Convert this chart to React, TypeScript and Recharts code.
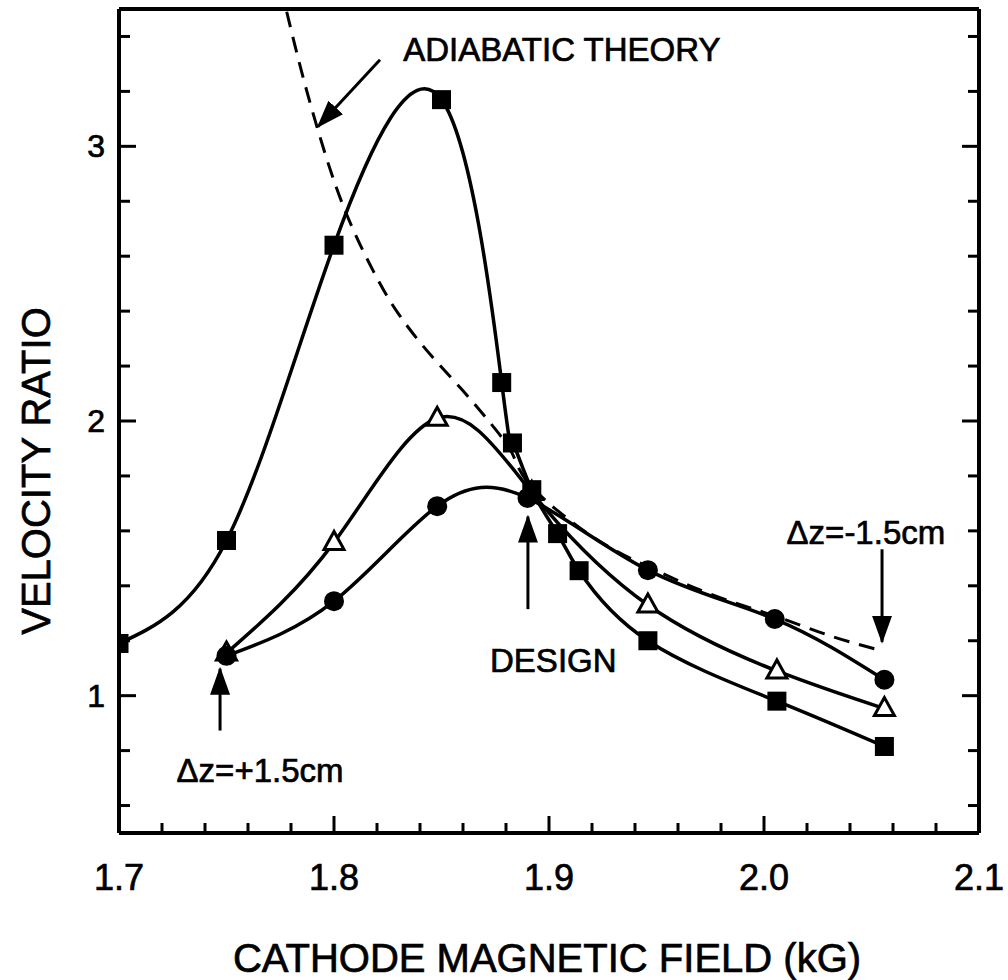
import React from 'react';
import { LineChart, Line, XAxis, YAxis, ReferenceLine, ReferenceDot } from 'recharts';

// axis ticks (kG on x, velocity ratio on y)
const xTicks = [1.7, 1.72, 1.74, 1.76, 1.78, 1.8, 1.82, 1.84, 1.86, 1.88, 1.9, 1.92, 1.94, 1.96, 1.98, 2.0, 2.02, 2.04, 2.06, 2.08, 2.1];
const xMajor = [1.7, 1.8, 1.9, 2.0, 2.1];
const yTicks = [0.6, 0.8, 1, 1.2, 1.4, 1.6, 1.8, 2, 2.2, 2.4, 2.6, 2.8, 3, 3.2, 3.4];
const yMajor = [1, 2, 3];

// filled squares
const fieldSquares = [1.7, 1.75, 1.8, 1.85, 1.878, 1.883, 1.892, 1.904, 1.914, 1.946, 2.006, 2.056];
const ratioSquares = [1.19, 1.565, 2.64, 3.17, 2.14, 1.92, 1.75, 1.59, 1.455, 1.2, 0.98, 0.815];

// open triangles
const fieldTriangles = [1.75, 1.8, 1.848, 1.892, 1.946, 2.006, 2.056];
const ratioTriangles = [1.155, 1.558, 2.01, 1.74, 1.33, 1.09, 0.953];

// filled circles
const fieldCircles = [1.75, 1.8, 1.848, 1.89, 1.946, 2.005, 2.056];
const ratioCircles = [1.145, 1.344, 1.69, 1.72, 1.457, 1.279, 1.058];

// adiabatic theory (dashed)
const fieldTheory = [1.778, 1.786, 1.796, 1.806, 1.818, 1.83, 1.845, 1.86, 1.873, 1.883, 1.892, 1.92, 1.946, 1.975, 2.005, 2.03, 2.053];
const ratioTheory = [3.49, 3.24, 2.97, 2.75, 2.55, 2.39, 2.24, 2.11, 1.99, 1.88, 1.76, 1.58, 1.47, 1.37, 1.29, 1.22, 1.167];

const zip = (xs: number[], ys: number[]) => xs.map((b, i) => ({ b, v: ys[i] }));
const squares = zip(fieldSquares, ratioSquares);
const triangles = zip(fieldTriangles, ratioTriangles);
const circles = zip(fieldCircles, ratioCircles);
const theory = zip(fieldTheory, ratioTheory);

const FONT = '"Liberation Sans", Arial, Helvetica, sans-serif';
const INK = '#000';
// slightly heavier glyphs than plain regular weight
const textStyle = { fontFamily: FONT, fill: INK, stroke: INK, strokeWidth: 0.7 };

const isOneOf = (v: number, list: number[]) => list.some((m) => Math.abs(m - v) < 1e-6);

const BottomTick = ({ x, y, payload }: any) => {
  const major = isOneOf(payload.value, xMajor);
  return (
    <g>
      <line x1={x} y1={y} x2={x} y2={y - (major ? 17 : 10)} stroke={INK} strokeWidth={3} />
      {major && (
        <text x={x} y={y + 57} textAnchor="middle" fontSize={36} {...textStyle}>
          {payload.value.toFixed(1)}
        </text>
      )}
    </g>
  );
};

const TopTick = ({ x, y, payload }: any) => {
  const major = isOneOf(payload.value, xMajor);
  return <line x1={x} y1={y} x2={x} y2={y + (major ? 17 : 10)} stroke={INK} strokeWidth={3} />;
};

const LeftTick = ({ x, y, payload }: any) => {
  const major = isOneOf(payload.value, yMajor);
  return (
    <g>
      <line x1={x} y1={y} x2={x + (major ? 17 : 11)} y2={y} stroke={INK} strokeWidth={3} />
      {major && (
        <text x={x - 14} y={y + 11} textAnchor="end" fontSize={32} {...textStyle}>
          {payload.value}
        </text>
      )}
    </g>
  );
};

const RightTick = ({ x, y, payload }: any) => {
  const major = isOneOf(payload.value, yMajor);
  return <line x1={x} y1={y} x2={x - (major ? 17 : 11)} y2={y} stroke={INK} strokeWidth={3} />;
};

const SquareDot = (p: any) => (
  <rect key={`s${p.index}`} x={p.cx - 9.5} y={p.cy - 9.5} width={19} height={19} fill={INK} />
);
const CircleDot = (p: any) => <circle key={`c${p.index}`} cx={p.cx} cy={p.cy} r={10} fill={INK} />;
const TriangleDot = (p: any) => (
  <polygon
    key={`t${p.index}`}
    points={`${p.cx},${p.cy - 11} ${p.cx - 10},${p.cy + 7} ${p.cx + 10},${p.cy + 7}`}
    fill="#fff"
    stroke={INK}
    strokeWidth={3}
  />
);

const note = (text: string) => (p: any) => (
  <text x={p.cx} y={p.cy} textAnchor="middle" dominantBaseline="central" fontSize={33} {...textStyle}>
    {text}
  </text>
);

const XTitle = ({ viewBox }: any) => (
  <text x={viewBox.x + viewBox.width / 2 - 2} y={viewBox.y + 139} textAnchor="middle" fontSize={40} {...textStyle}>
    CATHODE MAGNETIC FIELD (kG)
  </text>
);

const YTitle = ({ viewBox }: any) => {
  const cx = 36;
  const cy = viewBox.y + viewBox.height / 2 + 50;
  return (
    <text
      x={cx}
      y={cy}
      transform={`rotate(-90 ${cx} ${cy})`}
      textAnchor="middle"
      dominantBaseline="central"
      fontSize={40}
      {...textStyle}
    >
      VELOCITY RATIO
    </text>
  );
};

// annotation arrows, in data units
const arrows = [
  { from: [1.8214, 3.315], to: [1.7926, 3.072] },
  { from: [1.8902, 1.315], to: [1.8902, 1.652] },
  { from: [1.747, 0.873], to: [1.747, 1.098] },
  { from: [2.0549, 1.533], to: [2.0549, 1.196] },
];

const notes = [
  { text: 'ADIABATIC THEORY', b: 1.906, v: 3.351 },
  { text: 'DESIGN', b: 1.902, v: 1.127 },
  { text: 'Δz=+1.5cm', b: 1.7656, v: 0.728 },
  { text: 'Δz=-1.5cm', b: 2.0474, v: 1.594 },
];

export default function App() {
  return (
    <div style={{ position: 'absolute', left: 0, top: 0, background: '#fff' }}>
      <LineChart width={1008} height={980} margin={{ top: 9, right: 29, bottom: 0, left: 0 }}>
        <defs>
          <marker id="head" markerUnits="userSpaceOnUse" markerWidth={28} markerHeight={20} refX={26} refY={10} orient="auto">
            <path d="M0,0 L28,10 L0,20 Z" fill={INK} />
          </marker>
        </defs>
        <XAxis
          xAxisId="b"
          dataKey="b"
          type="number"
          domain={[1.7, 2.1]}
          ticks={xTicks}
          interval={0}
          height={147}
          tickSize={0}
          tickMargin={0}
          tickLine={false}
          tick={<BottomTick />}
          axisLine={{ stroke: INK, strokeWidth: 4 }}
          allowDataOverflow
          label={{ content: <XTitle /> } as any}
        />
        <XAxis
          xAxisId="t"
          orientation="top"
          mirror
          type="number"
          domain={[1.7, 2.1]}
          ticks={xTicks}
          interval={0}
          tickSize={0}
          tickMargin={0}
          tickLine={false}
          tick={<TopTick />}
          axisLine={{ stroke: INK, strokeWidth: 4 }}
          allowDataOverflow
        />
        <YAxis
          yAxisId="l"
          type="number"
          domain={[0.5, 3.5]}
          ticks={yTicks}
          interval={0}
          width={119}
          tickSize={0}
          tickMargin={0}
          tickLine={false}
          tick={<LeftTick />}
          axisLine={{ stroke: INK, strokeWidth: 4 }}
          allowDataOverflow
          label={{ content: <YTitle /> } as any}
        />
        <YAxis
          yAxisId="r"
          orientation="right"
          mirror
          type="number"
          domain={[0.5, 3.5]}
          ticks={yTicks}
          interval={0}
          tickSize={0}
          tickMargin={0}
          tickLine={false}
          tick={<RightTick />}
          axisLine={{ stroke: INK, strokeWidth: 4 }}
          allowDataOverflow
        />

        <Line
          xAxisId="b"
          yAxisId="l"
          data={theory}
          dataKey="v"
          type="natural"
          stroke={INK}
          strokeWidth={3}
          strokeDasharray="16 10"
          dot={false}
          isAnimationActive={false}
        />
        <Line
          xAxisId="b"
          yAxisId="l"
          data={triangles}
          dataKey="v"
          type="natural"
          stroke={INK}
          strokeWidth={3.5}
          dot={TriangleDot}
          isAnimationActive={false}
        />
        <Line
          xAxisId="b"
          yAxisId="l"
          data={circles}
          dataKey="v"
          type="natural"
          stroke={INK}
          strokeWidth={3.5}
          dot={CircleDot}
          isAnimationActive={false}
        />
        <Line
          xAxisId="b"
          yAxisId="l"
          data={squares}
          dataKey="v"
          type="natural"
          stroke={INK}
          strokeWidth={3.5}
          dot={SquareDot}
          isAnimationActive={false}
        />

        {arrows.map((a, i) => (
          <ReferenceLine
            key={`a${i}`}
            xAxisId="b"
            yAxisId="l"
            segment={[
              { x: a.from[0], y: a.from[1] },
              { x: a.to[0], y: a.to[1] },
            ]}
            stroke={INK}
            strokeWidth={3}
            markerEnd="url(#head)"
          />
        ))}
        {notes.map((n, i) => (
          <ReferenceDot key={`n${i}`} xAxisId="b" yAxisId="l" x={n.b} y={n.v} r={1} shape={note(n.text)} />
        ))}
      </LineChart>
    </div>
  );
}
